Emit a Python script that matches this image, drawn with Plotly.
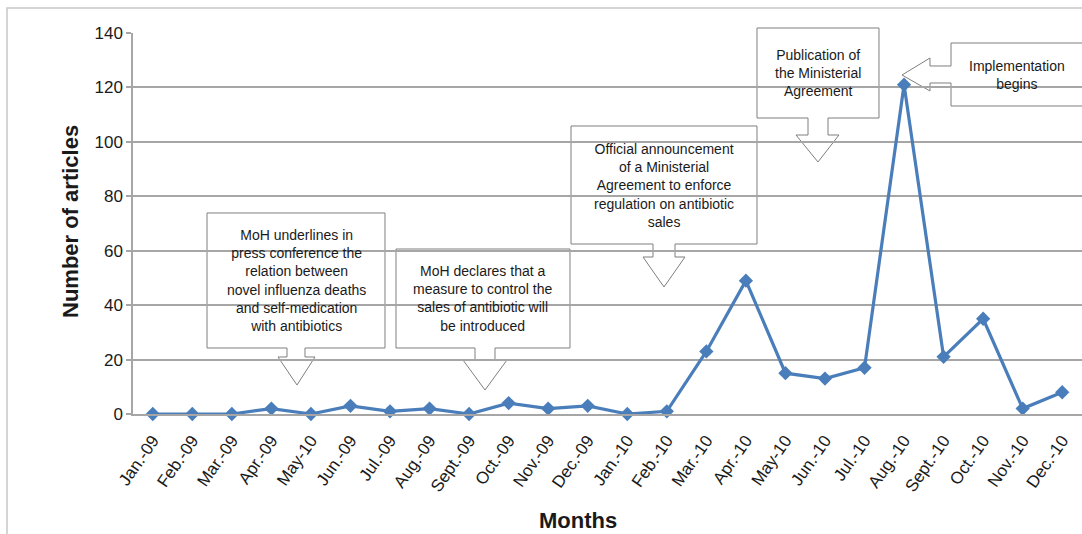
import plotly.graph_objects as go

# ---- data ----
months = ["Jan.-09", "Feb.-09", "Mar.-09", "Apr.-09", "May-10", "Jun.-09", "Jul.-09",
          "Aug.-09", "Sept.-09", "Oct.-09", "Nov.-09", "Dec.-09", "Jan.-10", "Feb.-10",
          "Mar.-10", "Apr.-10", "May-10", "Jun.-10", "Jul.-10", "Aug.-10", "Sept.-10",
          "Oct.-10", "Nov.-10", "Dec.-10"]
articles = [0, 0, 0, 2, 0, 3, 1, 2, 0, 4, 2, 3, 0, 1, 23, 49, 15, 13, 17, 121, 21, 35, 2, 8]
y_ticks = [0, 20, 40, 60, 80, 100, 120, 140]

callout_texts = [
    "MoH underlines in<br>press conference the<br>relation between<br>novel influenza deaths<br>and self-medication<br>with antibiotics",
    "MoH declares that a<br>measure to control the<br>sales of antibiotic will<br>be introduced",
    "Official announcement<br>of a Ministerial<br>Agreement to enforce<br>regulation on antibiotic<br>sales",
    "Publication of<br>the Ministerial<br>Agreement",
    "Implementation<br>begins",
]

# ---- layout geometry (pixels of the 1082x534 page) ----
FW, FH = 1082, 534
L, R, T, B = 133, 1082, 33, 414
W, H = R - L, B - T

def px(x):
    return (x - L) / W

def py(y):
    return (B - y) / H

# down-arrow callouts: box x0,y0,x1,y1 ; shaft sx0,sx1,shaft_bottom ; head hx0,hx1 ; tip tx,ty
down_callouts = [
    dict(box=(207, 213, 385, 348), shaft=(287, 305, 357), head=(278, 315), tip=(297, 385)),
    dict(box=(396, 249, 570, 348), shaft=(475, 495, 360), head=(463, 507), tip=(485, 390)),
    dict(box=(571, 126, 757, 244), shaft=(653, 675, 257), head=(643, 685), tip=(664, 287)),
    dict(box=(757, 28, 879, 118), shaft=(808, 828, 135), head=(796, 839), tip=(818, 162)),
]
left_callout = dict(box=(951, 43, 1095, 106), shaft=(66, 83, 930), head=(58, 91), tip=(902, 75))

GRID = "#a6a6a6"
BORDER = "#7f7f7f"
FONT = "Liberation Sans, Arial, sans-serif"

fig = go.Figure()
fig.add_trace(go.Scatter(
    x=list(range(len(months))), y=articles, mode="lines+markers",
    line=dict(color="#4a7ebb", width=3.2),
    marker=dict(symbol="diamond", size=11, color="#4a7ebb"),
    cliponaxis=False, showlegend=False, hoverinfo="x+y",
))

shapes = []
annotations = []

# outer chart border
shapes.append(dict(type="rect", xref="paper", yref="paper",
                   x0=px(7), x1=px(1090), y0=py(8), y1=py(545),
                   line=dict(color="#c8c8c8", width=1.5), fillcolor="rgba(0,0,0,0)", layer="below"))

def fmt(x, y):
    return f"{px(x):.5f},{py(y):.5f}"

for c, txt in zip(down_callouts, callout_texts[:4]):
    x0, y0, x1, y1 = c["box"]
    sx0, sx1, sb = c["shaft"]
    hx0, hx1 = c["head"]
    tx, ty = c["tip"]
    path = ("M" + fmt(x0, y0) + " L" + fmt(x1, y0) + " L" + fmt(x1, y1) + " L" + fmt(sx1, y1) +
            " L" + fmt(sx1, sb) + " L" + fmt(hx1, sb) + " L" + fmt(tx, ty) + " L" + fmt(hx0, sb) +
            " L" + fmt(sx0, sb) + " L" + fmt(sx0, y1) + " L" + fmt(x0, y1) + " Z")
    shapes.append(dict(type="path", xref="paper", yref="paper", path=path,
                       fillcolor="white", line=dict(color=BORDER, width=1), layer="between"))
    annotations.append(dict(xref="paper", yref="paper", x=px((x0 + x1) / 2), y=py((y0 + y1) / 2),
                            text=txt, showarrow=False, xanchor="center", yanchor="middle",
                            align="center", font=dict(family=FONT, size=14, color="#1a1a1a")))

c = left_callout
x0, y0, x1, y1 = c["box"]
sy0, sy1, sl = c["shaft"]
hy0, hy1 = c["head"]
tx, ty = c["tip"]
path = ("M" + fmt(x0, y0) + " L" + fmt(x1, y0) + " L" + fmt(x1, y1) + " L" + fmt(x0, y1) +
        " L" + fmt(x0, sy1) + " L" + fmt(sl, sy1) + " L" + fmt(sl, hy1) + " L" + fmt(tx, ty) +
        " L" + fmt(sl, hy0) + " L" + fmt(sl, sy0) + " L" + fmt(x0, sy0) + " Z")
shapes.append(dict(type="path", xref="paper", yref="paper", path=path,
                   fillcolor="white", line=dict(color=BORDER, width=1), layer="between"))
annotations.append(dict(xref="paper", yref="paper", x=px(1017), y=py((y0 + y1) / 2),
                        text=callout_texts[4], showarrow=False, xanchor="center", yanchor="middle",
                        align="center", font=dict(family=FONT, size=14, color="#1a1a1a")))

# axis titles
annotations.append(dict(xref="paper", yref="paper", x=px(578), y=py(520), text="<b>Months</b>",
                        showarrow=False, xanchor="center", yanchor="middle",
                        font=dict(family=FONT, size=22, color="#1a1a1a")))
annotations.append(dict(xref="paper", yref="paper", x=px(70), y=py(222), text="<b>Number of articles</b>",
                        showarrow=False, xanchor="center", yanchor="middle", textangle=-90,
                        font=dict(family=FONT, size=22, color="#1a1a1a")))

fig.update_layout(
    width=FW, height=FH,
    margin=dict(l=L, r=FW - R, t=T, b=FH - B),
    paper_bgcolor="white", plot_bgcolor="white",
    shapes=shapes, annotations=annotations,
    xaxis=dict(range=[-0.5, len(months) - 0.5], tickvals=list(range(len(months))), ticktext=months,
               tickangle=-55, showgrid=False, zeroline=False, showline=True, linecolor=GRID,
               linewidth=1.5, ticks="", ticklabelstandoff=8,
               tickfont=dict(family=FONT, size=17, color="#1a1a1a")),
    yaxis=dict(range=[0, 140], tickvals=y_ticks, showgrid=True, gridcolor=GRID, gridwidth=1.5,
               zeroline=False, showline=True, linecolor=GRID, linewidth=1.5, ticks="outside",
               ticklen=5, tickcolor=GRID, tickwidth=1.5,
               tickfont=dict(family=FONT, size=17, color="#1a1a1a")),
)

fig.write_html("out.html", config={"displayModeBar": False},
               post_script="document.body.style.margin='0';document.body.style.overflow='hidden';")
